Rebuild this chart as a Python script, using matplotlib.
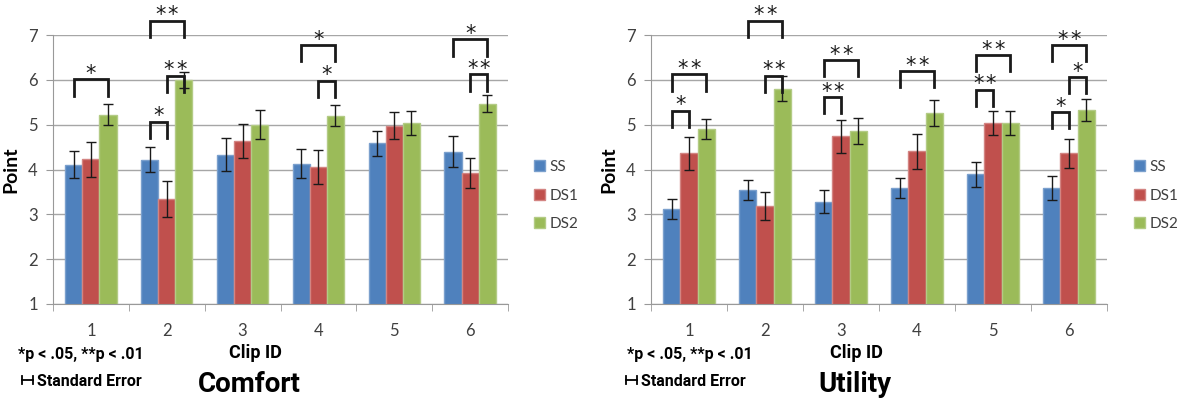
"""
Comfort / Utility ratings per clip, grouped bars with SE and significance brackets
"""
import matplotlib
matplotlib.use("Agg")
import matplotlib.pyplot as plt
from matplotlib.lines import Line2D

# --- data -------------------------------------------------------------
clip_ids = ["1", "2", "3", "4", "5", "6"]
series_names = ["SS", "DS1", "DS2"]

comfort_ss = [4.11, 4.22, 4.33, 4.13, 4.58, 4.40]
comfort_ds1 = [4.23, 3.34, 4.63, 4.05, 4.98, 3.92]
comfort_ds2 = [5.22, 6.00, 5.00, 5.20, 5.04, 5.47]
comfort_ss_se = [0.31, 0.28, 0.37, 0.32, 0.28, 0.35]
comfort_ds1_se = [0.39, 0.40, 0.38, 0.38, 0.30, 0.34]
comfort_ds2_se = [0.23, 0.18, 0.32, 0.23, 0.26, 0.19]

utility_ss = [3.12, 3.54, 3.28, 3.59, 3.89, 3.59]
utility_ds1 = [4.36, 3.19, 4.74, 4.41, 5.04, 4.36]
utility_ds2 = [4.90, 5.80, 4.85, 5.26, 5.04, 5.33]
utility_ss_se = [0.23, 0.22, 0.26, 0.23, 0.28, 0.27]
utility_ds1_se = [0.36, 0.31, 0.37, 0.39, 0.26, 0.32]
utility_ds2_se = [0.22, 0.28, 0.29, 0.30, 0.26, 0.25]

# significance brackets: (clip index, series a, series b, bracket top, label)
comfort_sig = [
    (0, 0, 2, 6.01, "*"),
    (1, 0, 2, 7.32, "**"),
    (1, 1, 2, 6.09, "**"),
    (1, 0, 1, 5.07, "*"),
    (3, 0, 2, 6.78, "*"),
    (3, 1, 2, 5.98, "*"),
    (5, 0, 2, 6.90, "*"),
    (5, 1, 2, 6.12, "**"),
]
utility_sig = [
    (0, 0, 2, 6.12, "**"),
    (0, 0, 1, 5.31, "*"),
    (1, 0, 2, 7.32, "**"),
    (1, 1, 2, 6.09, "**"),
    (2, 0, 2, 6.44, "**"),
    (2, 0, 1, 5.62, "**"),
    (3, 0, 2, 6.19, "**"),
    (4, 0, 2, 6.55, "**"),
    (4, 0, 1, 5.78, "**"),
    (5, 0, 2, 6.78, "**"),
    (5, 1, 2, 6.06, "*"),
    (5, 0, 1, 5.28, "*"),
]

colors = ["#4F81BD", "#C0504D", "#9BBB59"]
edge_colors = ["#7BA0CD", "#D38482", "#B3CB85"]
TXT = "#404040"
BAR_W = 0.225
LEG_H = 0.36
FONT = ["Lato", "DejaVu Sans"]
COND = ["Liberation Sans Narrow", "Roboto", "DejaVu Sans"]

plt.rcParams["font.family"] = FONT


def draw_panel(ax, values, errors, sig):
    x = list(range(len(clip_ids)))
    offsets = [-BAR_W, 0, BAR_W]
    for k in range(3):
        xs = [i + offsets[k] for i in x]
        ax.bar(xs, values[k], BAR_W, color=colors[k], edgecolor=edge_colors[k],
               linewidth=1.0, zorder=2)
        ax.errorbar(xs, values[k], yerr=errors[k], fmt="none", ecolor="#1a1a1a",
                    elinewidth=1.0, capsize=3.5, capthick=1.0, zorder=3)

    for ci, a, b, top, label in sig:
        xa = ci + offsets[a]
        xb = ci + offsets[b]
        ax.plot([xa, xa, xb, xb], [top - LEG_H, top, top, top - LEG_H],
                color="#1a1a1a", lw=2.0, clip_on=False, zorder=4,
                solid_joinstyle="miter")
        n = len(label)
        for j in range(n):
            dx = (j - (n - 1) / 2) * 9.0
            ax.annotate("*", xy=((xa + xb) / 2, top), xytext=(dx, -0.5),
                        textcoords="offset points", ha="center", va="baseline",
                        fontsize=15, color="#1a1a1a", family=["DejaVu Sans"],
                        annotation_clip=False)

    ax.set_xlim(-0.5, len(clip_ids) - 0.5)
    ax.set_ylim(1, 7)
    ax.set_yticks(range(1, 8))
    ax.set_xticks(x)
    ax.set_xticklabels(clip_ids)
    ax.set_xticks([i - 0.5 for i in range(len(clip_ids) + 1)], minor=True)
    ax.tick_params(axis="x", which="major", length=0, pad=14, labelsize=12,
                   labelcolor=TXT)
    ax.tick_params(axis="x", which="minor", length=5, color="#999999")
    ax.tick_params(axis="y", length=5, color="#999999", labelsize=12,
                   labelcolor=TXT, pad=6)
    ax.grid(axis="y", color="#a6a6a6", lw=1.0, zorder=0)
    ax.set_axisbelow(True)
    for s in ["top", "right"]:
        ax.spines[s].set_visible(False)
    for s in ["left", "bottom"]:
        ax.spines[s].set_color("#999999")
    ax.set_ylabel("Point", fontsize=14, fontweight="bold", color="black",
                  labelpad=6)


fig = plt.figure(figsize=(11.8, 4.05), dpi=100)
W, H = 1180.0, 405.0

ax1 = fig.add_axes([53 / W, 1 - 304 / H, 455 / W, 269 / H])
ax2 = fig.add_axes([651 / W, 1 - 304 / H, 456 / W, 269 / H])

draw_panel(ax1, [comfort_ss, comfort_ds1, comfort_ds2],
           [comfort_ss_se, comfort_ds1_se, comfort_ds2_se], comfort_sig)
draw_panel(ax2, [utility_ss, utility_ds1, utility_ds2],
           [utility_ss_se, utility_ds1_se, utility_ds2_se], utility_sig)

# legends
handles = [plt.Rectangle((0, 0), 1, 1, facecolor=colors[k], edgecolor=edge_colors[k])
           for k in range(3)]
for lx in [534 / W, 1134 / W]:
    fig.legend(handles, series_names, loc="upper left",
               bbox_to_anchor=(lx, 1 - 160 / H), frameon=False, fontsize=11,
               handlelength=0.75, handleheight=0.75, handletextpad=0.25,
               labelspacing=0.95, borderpad=0, borderaxespad=0,
               labelcolor=TXT)

# footnotes and titles
for x_p, x_t, x_c, x_s, title in [(18, 255, 249, 22, "Comfort"),
                                  (627, 856, 855, 626, "Utility")]:
    fig.text(x_p / W, 1 - 354 / H, "*p < .05, **p < .01", fontsize=11.5,
             fontweight="bold", family=COND, va="center", ha="left")
    fig.text(x_t / W, 1 - 353 / H, "Clip ID", fontsize=13, fontweight="bold",
             family=COND, va="center", ha="center")
    fig.text(x_c / W, 1 - 385 / H, title, fontsize=20, fontweight="bold",
             family=COND, va="center", ha="center")
    # small standard error glyph
    y0 = 1 - 380 / H
    x0 = x_s / W
    x1 = (x_s + 11) / W
    dy = 4 / H
    fig.add_artist(Line2D([x0, x1], [y0, y0], color="black", lw=1.3))
    fig.add_artist(Line2D([x0, x0], [y0 - dy, y0 + dy], color="black", lw=1.3))
    fig.add_artist(Line2D([x1, x1], [y0 - dy, y0 + dy], color="black", lw=1.3))
    fig.text((x_s + 15) / W, 1 - 381 / H, "Standard Error", fontsize=11.5,
             fontweight="bold", family=COND, va="center", ha="left")

plt.savefig("out.png", dpi=100)
plt.close()
